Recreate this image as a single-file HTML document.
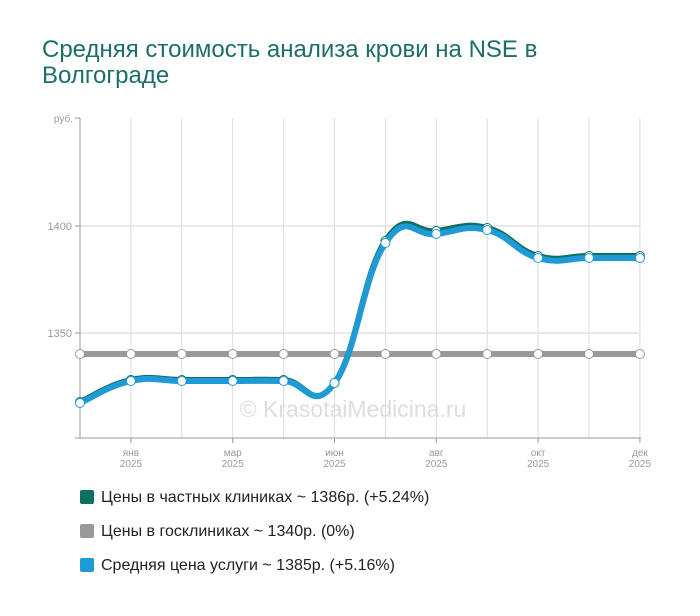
<!DOCTYPE html><html><head><meta charset="utf-8"><style>
body{margin:0;background:#fff;width:700px;height:616px;overflow:hidden;font-family:"Liberation Sans",sans-serif}
.t{position:absolute;left:42px;top:37px;font-size:24px;line-height:26px;color:#1b6f68}
.lg{position:absolute;left:80px;font-size:16px;color:#222}
.lg i{display:inline-block;width:14px;height:14px;border-radius:2px;vertical-align:-2px;margin-right:7px}
</style></head><body>
<div class="t">Средняя стоимость анализа крови на NSE в<br>Волгограде</div>
<svg id="s" width="700" height="616" style="position:absolute;left:0;top:0"></svg>
<div class="lg" style="top:489px"><i style="background:#0e6f63"></i>Цены в частных клиниках ~ 1386р. (+5.24%)</div>
<div class="lg" style="top:523px"><i style="background:#999"></i>Цены в госклиниках ~ 1340р. (0%)</div>
<div class="lg" style="top:557px"><i style="background:#1e9ad6"></i>Средняя цена услуги ~ 1385р. (+5.16%)</div>
<script>
var s='';var X=[];for(var i=0;i<12;i++)X.push(80+i*50.9);
for(var i=1;i<12;i++)s+='<line x1="'+X[i]+'" y1="118" x2="'+X[i]+'" y2="438" stroke="#ddd"/>';
s+='<line x1="80" y1="226" x2="641" y2="226" stroke="#e2e2e2" stroke-width="1.5"/><line x1="80" y1="333" x2="641" y2="333" stroke="#e2e2e2" stroke-width="1.5"/>';
s+='<line x1="80" y1="118" x2="80" y2="438" stroke="#999"/><line x1="80" y1="438" x2="641" y2="438" stroke="#999"/>';
s+='<line x1="75" y1="118" x2="80" y2="118" stroke="#999"/><line x1="75" y1="226" x2="80" y2="226" stroke="#999"/><line x1="75" y1="333" x2="80" y2="333" stroke="#999"/><line x1="75" y1="438" x2="80" y2="438" stroke="#999"/>';
s+='<text x="73" y="122" font-size="10" fill="#999" text-anchor="end">руб.</text><text x="72" y="230" font-size="11" fill="#999" text-anchor="end">1400</text><text x="72" y="337" font-size="11" fill="#999" text-anchor="end">1350</text>';
var L=[[1,'янв'],[3,'мар'],[5,'июн'],[7,'авг'],[9,'окт'],[11,'дек']];
L.forEach(function(l){var x=X[l[0]];s+='<line x1="'+x+'" y1="438" x2="'+x+'" y2="443" stroke="#999"/><text x="'+x+'" y="456" font-size="10" fill="#999" text-anchor="middle">'+l[1]+'</text><text x="'+x+'" y="467" font-size="10" fill="#999" text-anchor="middle">2025</text>';});
s+='<text x="353" y="417" font-size="23" fill="#ddd" text-anchor="middle">© KrasotaiMedicina.ru</text>';
function path(Y){var k=4.5;var d='M'+X[0]+' '+Y[0];for(var i=0;i<11;i++){var p0=i?i-1:0,p3=i+2<12?i+2:11;var c1x=X[i]+(X[i+1]-X[p0])/k,c1y=Y[i]+(Y[i+1]-Y[p0])/k,c2x=X[i+1]-(X[p3]-X[i])/k,c2y=Y[i+1]-(Y[p3]-Y[i])/k;d+=' C'+c1x+' '+c1y+' '+c2x+' '+c2y+' '+X[i+1]+' '+Y[i+1];}return d;}
function ser(Y,c){s+='<path d="'+path(Y)+'" fill="none" stroke="'+c+'" stroke-width="6"/>';Y.forEach(function(y,i){s+='<circle cx="'+X[i]+'" cy="'+y+'" r="4.5" fill="#fff" stroke="'+c+'" stroke-width="1"/>';});}
ser([354,354,354,354,354,354,354,354,354,354,354,354],'#999');
ser([402,380,380,380,380,383,241,231,228,256,256,256],'#0e6f63');
ser([403,381,381,381,381,383,243,234,230,258,258,258],'#1e9ad6');
document.getElementById('s').innerHTML=s;
</script></body></html>
